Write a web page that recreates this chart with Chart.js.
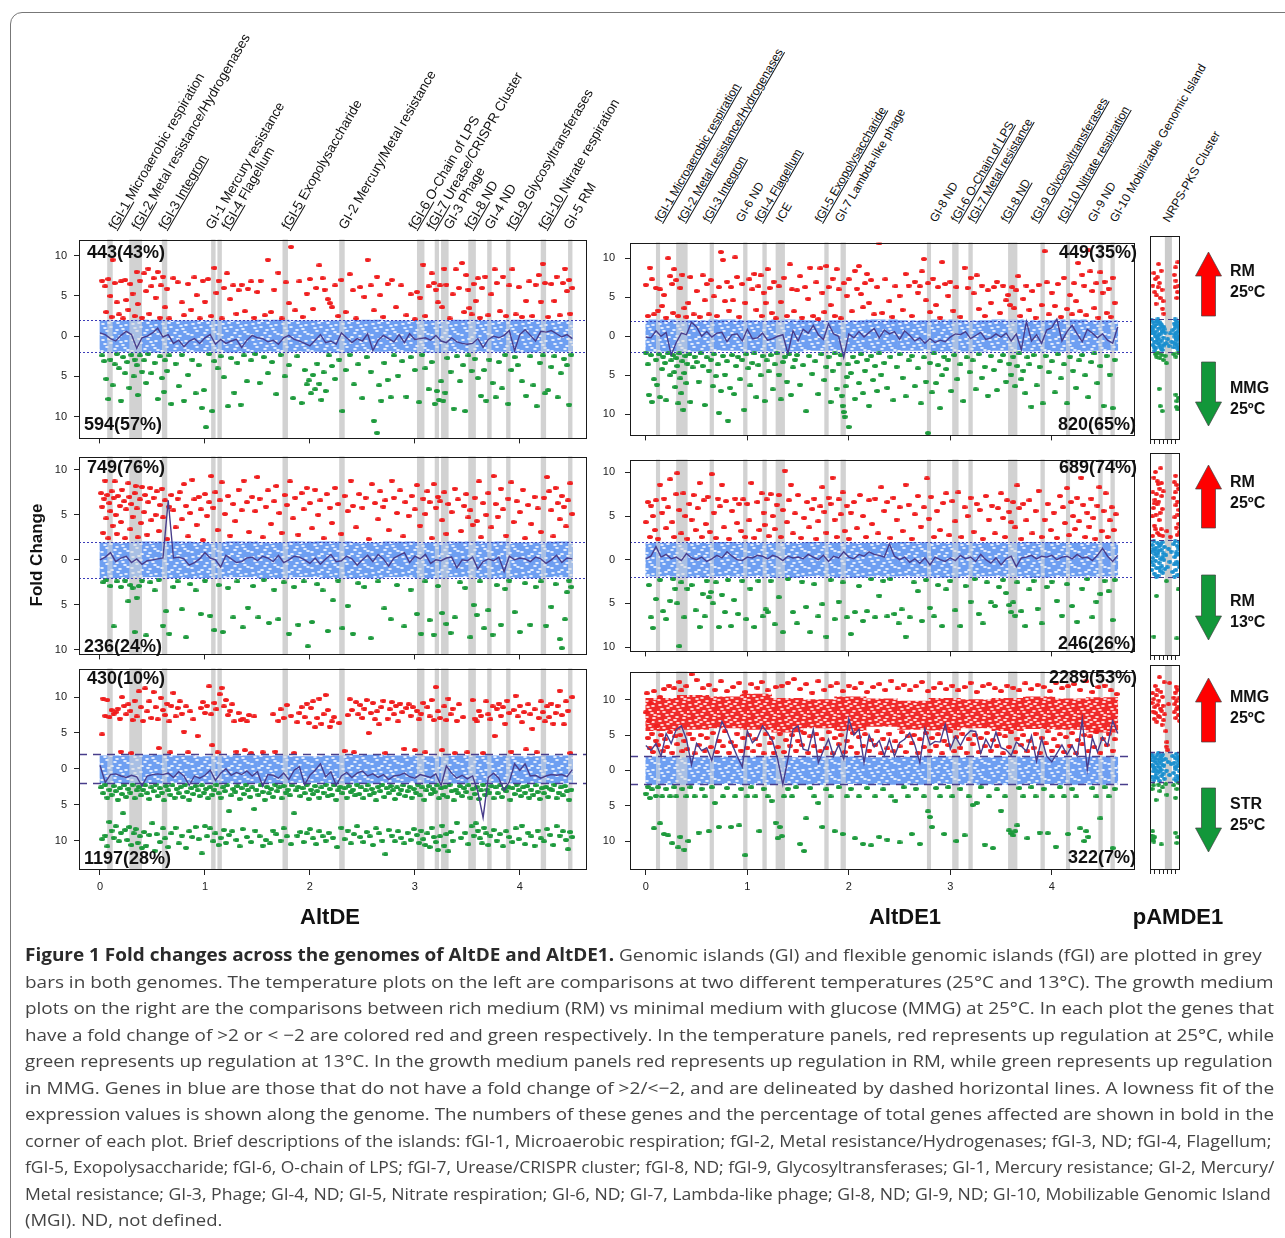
<!DOCTYPE html>
<html>
<head>
<meta charset="utf-8">
<script src="https://cdn.jsdelivr.net/npm/chart.js@4.4.1/dist/chart.umd.min.js"></script>
<style>
  body { margin: 0; background: #fff; }
  #fig { position: relative; width: 1285px; height: 1238px; overflow: hidden; background: #fff; font-family: 'Liberation Sans', Arial, sans-serif; color: #111; }
  .box { position: absolute; left: 10px; top: 12px; width: 1300px; height: 1260px; border: 1px solid #777; border-radius: 12px; }
  .isl { position: absolute; white-space: nowrap; transform-origin: 0 100%; transform: rotate(-60deg); color: #111; }
  .isl u { text-decoration: underline; text-decoration-thickness: 1px; text-underline-offset: 1px; }
  .cnt { position: absolute; font-weight: bold; font-size: 18px; line-height: 18px; white-space: nowrap; color: #111; }
  .arl { position: absolute; font-weight: bold; font-size: 16px; line-height: 21px; color: #111; }
  .gen { position: absolute; font-weight: bold; font-size: 22px; line-height: 24px; transform: translateX(-50%); }
  .cap { position: absolute; left: 25px; white-space: nowrap; font-family: 'Open Sans', sans-serif; font-size: 17px; line-height: 26px; color: #444; transform-origin: 0 0; }
  .cap b { color: #2a2a2a; }
</style>
</head>
<body>
<div id="fig"><div class="box"></div></div>
<script>
// ---- genome positions (Mb) of the grey island bars ----
const islandsA = [[0.07,0.12],[0.28,0.40],[0.59,0.64],[1.06,1.10],[1.12,1.16],[1.74,1.79],[2.28,2.33],[3.02,3.09],[3.19,3.23],[3.25,3.32],[3.51,3.58],[3.69,3.73],[3.87,3.91],[4.20,4.25],[4.46,4.50]];
const islandsB = [[0.10,0.14],[0.30,0.41],[0.63,0.67],[0.96,1.00],[1.15,1.19],[1.28,1.37],[1.76,1.80],[1.92,1.97],[2.77,2.81],[3.02,3.08],[3.18,3.22],[3.57,3.66],[3.89,3.93],[4.14,4.18],[4.46,4.50],[4.58,4.62]];
const islandsC = [[54,81]]; // kb on the plasmid

// ---- island labels ----
const labUA = ['fGI-1 ','fGI-2 ','fGI-3 Integron','','fGI-4','fGI-5','','fGI-6 ','fGI-7','','fGI-8 ','','fGI-9 ','fGI-10 ',''];
const labTA = ['Microaerobic respiration','Metal resistance/Hydrogenases','','GI-1 Mercury resistance',' Flagellum',' Exopolysaccharide','GI-2 Mercury/Metal resistance','O-Chain of LPS',' Urease/CRISPR Cluster','GI-3 Phage','ND','GI-4 ND','Glycosyltransferases','Nitrate respiration','GI-5 RM'];
const labUB = ['fGI-1 Microaerobic respiration','fGI-2 Metal resistance/Hydrogenases','fGI-3 Integron','','fGI-4 Flagellum','','fGI-5 Exopolysaccharide','','','fGI-6 O-Chain of LPS','fGI-7 Metal resistance','fGI-8 ND','fGI-9 Glycosyltransferases','fGI-10 Nitrate respiration','',''];
const labTB = ['','','','GI-6 ND','','ICE','','GI-7 Lambda-like phage','GI-8 ND','','','','','','GI-9 ND','GI-10 Mobilizable Genomic Island'];
const labUC = [''];
const labTC = ['NRPS-PKS Cluster'];

// ---- counts in the plot corners ----
const countUpA = ['443(43%)','749(76%)','430(10%)'];
const countDownA = ['594(57%)','236(24%)','1197(28%)'];
const countUpB = ['449(35%)','689(74%)','2289(53%)'];
const countDownB = ['820(65%)','246(26%)','322(7%)'];

// ---- comparison names ----
const upNames = [['RM','25ºC'],['RM','25ºC'],['MMG','25ºC']];
const downNames = [['MMG','25ºC'],['RM','13ºC'],['STR','25ºC']];
const genomes = ['AltDE','AltDE1','pAMDE1'];
const yTicks = [-10,-5,0,5,10];
const xTicksAB = [0,1,2,3,4];
const xTicksC = [0,16,32,48,64,80,96];
const cutoffs = [-2,2];

// ---- lowess grid ----
const lowXA = [0,0.05,0.1,0.15,0.2,0.25,0.3,0.35,0.4,0.45,0.5,0.55,0.6,0.65,0.7,0.75,0.8,0.85,0.9,0.95,1,1.05,1.1,1.15,1.2,1.25,1.3,1.35,1.4,1.45,1.5,1.55,1.6,1.65,1.7,1.75,1.8,1.85,1.9,1.95,2,2.05,2.1,2.15,2.2,2.25,2.3,2.35,2.4,2.45,2.5,2.55,2.6,2.65,2.7,2.75,2.8,2.85,2.9,2.95,3,3.05,3.1,3.15,3.2,3.25,3.3,3.35,3.4,3.45,3.5,3.55,3.6,3.65,3.7,3.75,3.8,3.85,3.9,3.95,4,4.05,4.1,4.15,4.2,4.25,4.3,4.35,4.4,4.45,4.5];
const lowXB = [0,0.05,0.1,0.15,0.2,0.25,0.3,0.35,0.4,0.45,0.5,0.55,0.6,0.65,0.7,0.75,0.8,0.85,0.9,0.95,1,1.05,1.1,1.15,1.2,1.25,1.3,1.35,1.4,1.45,1.5,1.55,1.6,1.65,1.7,1.75,1.8,1.85,1.9,1.95,2,2.05,2.1,2.15,2.2,2.25,2.3,2.35,2.4,2.45,2.5,2.55,2.6,2.65,2.7,2.75,2.8,2.85,2.9,2.95,3,3.05,3.1,3.15,3.2,3.25,3.3,3.35,3.4,3.45,3.5,3.55,3.6,3.65,3.7,3.75,3.8,3.85,3.9,3.95,4,4.05,4.1,4.15,4.2,4.25,4.3,4.35,4.4,4.45,4.5,4.55,4.6,4.65];

const lowA1 = [0.4,0.2,-0.3,-0.6,0.1,0.6,0.2,-1.5,-0.2,0.0, 0.4,1.0,-0.1,0.2,-0.9,-0.5,-1.3,-0.6,-0.3,-0.9, -0.2,0.2,-1.0,-0.4,-0.9,-0.6,-0.4,-1.4,-0.5,0.1, -0.2,-0.3,-0.7,-0.5,-1.0,-0.2,0.1,-0.4,-0.6,-0.9, -1.2,-0.5,0.2,-0.8,-0.6,-1.0,0.4,-0.2,-0.8,-0.3, -0.6,0.3,-1.8,-0.5,0.1,-0.3,-0.7,0.2,-0.8,0.3, -0.4,-0.3,-0.2,-0.5,0.1,-0.6,-0.8,-0.2,-0.7,-0.9, -1.0,-0.9,-0.3,-1.4,-0.4,0.0,-0.2,0.1,0.7,-1.8, 0.2,0.8,0.1,-0.6,0.6,0.5,0.7,0.3,-0.1,0.2, -0.3];
const lowA2 = [0.0,0.3,0.8,-0.2,0.2,0.4,-0.3,0.1,-0.5,-0.1, 0.0,0.1,0.2,6.6,0.2,0.3,0.1,-0.6,-0.3,0.1, 0.8,0.2,0.0,-0.8,0.5,0.1,-0.3,-0.2,0.2,0.3, -0.1,0.4,0.2,-0.2,0.5,-0.3,0.0,0.4,0.3,0.0, -0.4,0.2,-0.5,0.1,0.6,-0.2,-0.1,0.4,0.1,-0.6, 0.0,0.5,-0.2,0.6,0.1,-0.7,0.2,0.5,0.8,-0.3, 0.4,0.1,0.6,-0.4,0.0,-0.1,0.2,0.3,-0.9,0.0, -0.1,0.3,-1.0,-0.2,0.1,-0.1,0.3,-1.3,0.4,0.0, 0.2,0.1,-0.2,0.3,0.1,-0.4,0.0,0.5,-0.3,0.2, 0.1];
const lowA3 = [0.5,-1.9,-0.8,-0.7,-1.0,-1.2,-0.9,-1.1,-2.4,-1.0, -0.8,-0.7,-0.8,-0.6,-1.2,-0.4,-1.0,-2.3,-1.0,-1.3, -0.9,-0.2,-1.6,-0.6,0.0,-0.9,-0.5,-0.8,-0.3,-1.0, -0.4,-2.4,-0.8,-0.9,-1.3,-0.6,-1.5,-0.2,0.3,-2.2, -0.9,-0.2,0.7,-1.1,-0.4,-2.3,-1.0,-0.5,-1.2,-0.6, -0.3,-1.0,-0.7,-1.2,-0.8,-1.5,-1.0,-0.9,-0.6,-1.1, -1.3,-0.8,-1.0,-1.2,-0.7,-2.3,0.4,-0.6,-1.3,-0.9, -1.4,-1.0,-3.2,-6.8,-1.2,-0.6,-1.3,-3.0,-1.8,0.7, -0.2,0.7,-1.0,-0.9,-1.3,-1.0,-0.8,-0.9,-0.8,-1.1, -0.1];
const lowB1 = [-0.1,-0.2,0.7,0.0,0.5,-2.4,-0.8,0.4,0.2,1.8, 1.2,0.0,0.6,-0.1,0.4,0.5,-0.7,0.2,0.3,-0.6, 0.9,-0.3,-0.2,0.4,-0.5,-0.3,0.0,0.2,-2.2,0.7, -0.6,0.9,0.4,1.4,0.2,-0.4,1.6,0.3,0.0,-2.7, 0.3,-0.2,0.6,-0.1,0.5,1.0,-0.2,0.8,0.3,0.6, -0.4,0.7,0.1,-0.6,-0.2,-0.9,-0.3,-0.8,-0.5,-0.7, -0.1,0.3,0.2,0.6,-0.3,0.1,0.5,-0.4,-0.2,0.3, -0.1,0.4,-0.6,0.3,-1.7,1.9,-0.6,0.2,-0.9,0.8, 1.1,2.2,-0.6,0.6,1.4,0.3,-0.7,0.9,0.4,-0.2, 0.3,-0.5,-0.9,1.2];
const lowB2 = [0.1,0.4,1.5,0.3,0.6,0.1,0.3,-0.1,0.7,0.2, 0.0,0.3,-0.2,0.1,0.5,0.2,0.9,0.4,0.0,-0.1, 0.3,0.2,0.5,0.4,0.1,0.5,0.3,-0.1,0.4,0.2, 0.3,0.1,0.6,0.3,0.0,0.5,-0.2,0.4,0.2,0.9, 0.3,0.1,0.6,0.4,0.9,0.6,0.5,0.3,1.8,0.4, 0.0,0.3,-0.3,0.1,-0.4,0.2,-0.6,0.3,0.0,-0.2, 0.2,-0.1,0.5,0.1,0.3,-0.2,0.6,0.0,-0.4,0.2, -0.6,0.1,0.4,-0.8,0.2,0.3,0.5,0.1,0.4,0.3, 0.5,0.0,0.3,0.4,0.1,0.6,0.2,0.3,-0.1,0.5, 1.3,0.4,-0.2,0.5];
const lowB3 = [3.5,2.8,3.8,2.0,5.2,3.8,5.8,6.3,4.4,0.8, 3.8,2.8,3.2,1.4,4.3,6.9,5.5,3.7,2.0,0.5, 5.6,3.9,4.6,6.3,5.3,4.1,1.5,-2.0,1.6,5.8, 6.3,3.0,2.8,5.8,1.1,2.8,4.4,2.0,3.6,1.6, 7.3,5.0,5.8,1.1,5.0,3.3,4.2,2.1,4.4,2.0, 3.9,4.4,5.3,3.6,1.1,5.9,3.6,4.1,4.0,6.5, 3.0,4.8,3.5,4.9,5.6,5.5,2.4,4.4,3.1,5.4, 3.2,2.9,2.1,4.0,3.4,2.7,4.9,1.3,4.5,2.0, 1.2,2.4,3.6,2.2,3.5,2.0,7.2,0.1,4.6,2.6, 4.7,3.5,7.0,5.2];

// ---- blue (|fold change| < 2) band, per 0.3 Mb bin ----
const bandXA = [0.15,0.45,0.75,1.05,1.35,1.65,1.95,2.25,2.55,2.85,3.15,3.45,3.75,4.05,4.35];
const bandXB = [0.155,0.465,0.775,1.085,1.395,1.705,2.015,2.325,2.635,2.945,3.255,3.565,3.875,4.185,4.495];
const bandLoA1 = [-1.9,-2.0,-1.9,-1.9,-2.0,-1.9,-1.9,-2.0,-1.9,-1.9,-2.0,-1.9,-1.9,-2.0,-1.9];
const bandHiA1 = [1.9,2.0,1.9,1.9,1.9,2.0,1.9,1.9,2.0,1.9,1.9,2.0,1.9,2.0,1.9];
const bandLoA2 = [-2.0,-1.9,-2.0,-2.0,-1.9,-2.0,-1.9,-2.0,-2.0,-1.9,-2.0,-1.9,-2.0,-2.0,-1.9];
const bandHiA2 = [1.9,2.0,2.0,1.9,2.0,1.9,2.0,2.0,1.9,2.0,1.9,2.0,2.0,1.9,2.0];
const bandLoA3 = [-2.0,-2.0,-1.9,-2.0,-2.0,-2.0,-1.9,-2.0,-2.0,-1.9,-2.0,-2.0,-1.9,-2.0,-2.0];
const bandHiA3 = [1.8,1.9,1.8,1.7,1.8,1.8,1.7,1.8,1.9,1.8,1.7,1.8,1.8,1.7,1.8];
const bandLoB1 = [-1.9,-1.9,-1.8,-1.9,-1.9,-1.8,-1.9,-1.9,-1.8,-1.9,-1.9,-1.8,-1.9,-1.9,-1.8];
const bandHiB1 = [2.1,2.0,2.1,2.0,2.1,2.0,2.0,2.1,2.0,2.1,2.0,2.1,2.0,2.1,2.0];
const bandLoB2 = [-1.9,-2.0,-1.9,-1.9,-2.0,-1.9,-2.0,-1.9,-1.9,-2.0,-1.9,-1.9,-2.0,-1.9,-1.9];
const bandHiB2 = [1.9,1.9,2.0,1.9,1.9,2.0,1.9,1.9,2.0,1.9,1.9,1.9,2.0,1.9,1.9];
const bandLoB3 = [-2.0,-2.0,-1.9,-2.0,-2.0,-2.0,-1.9,-2.0,-2.0,-1.9,-2.0,-2.0,-1.9,-2.0,-2.0];
const bandHiB3 = [1.9,1.8,1.9,1.9,1.8,1.9,1.9,1.8,1.9,1.9,1.8,1.9,1.9,1.8,1.9];
// dense red core of AltDE1 MMG vs STR
const coreLoB3 = [5.6,5.8,6.0,5.8,5.4,6.0,5.6,6.2,5.8,5.7,6.0,5.6,5.9,5.8,5.4];
const coreHiB3 = [10.2,10.6,10.4,10.8,10.2,10.0,10.4,10.1,9.8,10.2,10.0,10.2,10.4,10.1,10.3];

// ---- up (red) and down (green) regulated genes: x (Mb), fold change ----
const redA1 = [0.02,6.9,0.05,6.2,0.06,3.0,0.08,7.1,0.10,5.0,0.11,2.4,0.12,9.5,0.14,6.6,0.16,4.2,0.18,2.7,0.20,6.8,0.22,2.2,0.24,7.0,0.25,4.5,0.27,3.3,0.29,6.5,0.31,5.3,0.33,2.5,0.35,8.0,0.36,4.0,0.38,6.9,0.40,2.3,0.42,7.8,0.44,5.6,0.46,8.4,0.47,2.8,0.49,6.2,0.51,7.2,0.53,4.8,0.55,8.0,0.57,2.3,0.58,6.3,0.60,7.4,0.62,3.6,0.64,5.9,0.66,2.2,0.70,7.2,0.74,6.7,0.78,4.2,0.80,2.6,0.84,6.5,0.87,3.3,0.90,7.3,0.92,5.1,0.95,2.2,0.98,6.9,1.00,4.3,1.03,7.1,1.06,2.5,1.09,8.5,1.11,5.4,1.13,6.9,1.16,2.2,1.18,6.0,1.21,7.8,1.24,4.6,1.27,6.3,1.30,2.8,1.32,5.7,1.35,6.4,1.38,3.1,1.41,5.9,1.44,6.8,1.47,2.3,1.50,5.5,1.53,6.9,1.57,2.6,1.60,9.5,1.63,3.0,1.66,5.8,1.70,7.9,1.73,2.2,1.77,6.7,1.80,4.1,1.82,11.1,1.86,3.2,1.90,6.8,1.93,2.4,1.97,5.3,2.00,7.1,2.03,3.4,2.06,6.0,2.09,8.8,2.12,7.2,2.14,5.8,2.17,4.6,2.19,4.1,2.21,3.6,2.24,6.3,2.27,2.5,2.30,7.0,2.34,3.0,2.38,7.7,2.41,5.7,2.44,2.2,2.48,6.1,2.52,4.9,2.55,9.5,2.58,6.3,2.61,3.2,2.64,7.4,2.67,5.1,2.70,2.4,2.74,6.5,2.78,7.0,2.82,3.6,2.87,6.3,2.92,2.6,2.96,5.2,3.00,2.1,3.02,5.5,3.05,4.8,3.08,8.9,3.10,2.5,3.13,6.2,3.16,7.8,3.18,6.6,3.20,5.8,3.22,4.2,3.24,6.3,3.26,3.6,3.28,8.4,3.30,6.4,3.33,2.2,3.36,5.2,3.39,8.3,3.42,6.0,3.45,9.1,3.47,3.0,3.49,7.6,3.51,5.8,3.52,3.5,3.54,2.7,3.56,6.5,3.58,4.4,3.60,7.2,3.62,2.3,3.64,6.0,3.67,7.4,3.70,2.6,3.73,5.2,3.76,8.3,3.78,6.6,3.81,3.1,3.84,7.4,3.87,2.5,3.90,6.3,3.93,8.3,3.96,2.7,3.99,6.1,4.02,2.4,4.06,4.4,4.09,6.8,4.12,2.5,4.15,6.4,4.18,7.6,4.20,4.3,4.22,9.0,4.24,6.6,4.27,2.4,4.30,6.5,4.33,4.4,4.35,7.4,4.38,2.6,4.41,6.6,4.43,8.4,4.45,5.6,4.47,7.0,4.48,2.8,4.50,6.0];
const greenA1 = [0.02,-2.4,0.04,-3.1,0.06,-5.3,0.08,-7.8,0.10,-2.9,0.12,-6.1,0.14,-3.5,0.16,-2.2,0.18,-4.0,0.20,-8.0,0.22,-2.6,0.24,-4.6,0.26,-3.2,0.28,-6.4,0.30,-2.3,0.32,-5.0,0.33,-2.9,0.35,-3.6,0.36,-7.3,0.38,-2.4,0.40,-4.4,0.42,-3.0,0.44,-5.8,0.46,-2.2,0.49,-4.6,0.52,-3.3,0.55,-7.8,0.57,-2.5,0.59,-5.2,0.61,-6.9,0.62,-3.0,0.64,-4.3,0.66,-2.4,0.68,-8.4,0.72,-3.4,0.75,-6.2,0.78,-2.3,0.80,-8.0,0.84,-4.8,0.88,-2.9,0.91,-7.1,0.94,-3.6,0.97,-8.9,0.99,-6.7,1.01,-11.3,1.04,-2.2,1.07,-9.3,1.09,-3.1,1.12,-4.0,1.15,-2.5,1.18,-5.1,1.22,-8.7,1.25,-2.7,1.28,-7.0,1.31,-3.3,1.34,-8.5,1.37,-2.4,1.40,-5.6,1.44,-3.0,1.48,-2.2,1.52,-5.8,1.56,-2.6,1.60,-4.6,1.64,-3.2,1.68,-7.2,1.72,-2.3,1.76,-5.0,1.80,-3.6,1.84,-7.7,1.88,-2.5,1.92,-8.3,1.95,-4.2,1.97,-6.0,1.99,-5.5,2.01,-7.1,2.03,-4.8,2.05,-6.6,2.07,-3.4,2.09,-5.9,2.11,-7.9,2.13,-4.5,2.15,-6.8,2.18,-2.4,2.21,-3.7,2.24,-5.3,2.28,-2.9,2.31,-9.3,2.34,-4.2,2.38,-2.3,2.42,-6.0,2.46,-3.5,2.50,-7.7,2.54,-2.6,2.58,-4.4,2.61,-10.5,2.64,-12.0,2.66,-6.1,2.68,-8.0,2.71,-3.3,2.74,-5.4,2.77,-7.6,2.80,-2.4,2.84,-4.9,2.88,-3.1,2.92,-7.5,2.96,-2.6,3.00,-4.2,3.04,-8.2,3.07,-2.3,3.10,-4.0,3.13,-6.6,3.16,-3.2,3.19,-8.4,3.21,-6.8,3.23,-7.9,3.25,-5.6,3.27,-8.0,3.29,-7.0,3.31,-2.7,3.34,-4.4,3.37,-9.0,3.40,-2.5,3.43,-5.6,3.46,-3.6,3.48,-9.3,3.51,-2.4,3.54,-4.3,3.57,-2.8,3.60,-5.2,3.63,-7.4,3.66,-4.2,3.68,-8.0,3.71,-2.9,3.74,-5.8,3.77,-7.6,3.80,-3.2,3.83,-6.5,3.86,-2.3,3.89,-8.4,3.92,-4.2,3.95,-2.6,3.98,-3.6,4.02,-5.6,4.06,-7.4,4.10,-2.5,4.13,-6.1,4.16,-8.7,4.19,-3.3,4.22,-2.4,4.24,-7.1,4.27,-6.7,4.30,-3.8,4.33,-2.5,4.36,-7.6,4.39,-4.6,4.42,-2.8,4.45,-3.6,4.47,-8.5,4.49,-2.3];

const redA2 = [0.01,7.4,0.02,5.9,0.03,3.0,0.04,6.8,0.05,8.8,0.06,4.6,0.07,7.2,0.08,2.4,0.09,6.3,0.10,5.4,0.11,7.6,0.12,3.8,0.13,6.9,0.14,8.7,0.15,5.0,0.16,2.9,0.17,7.1,0.19,6.0,0.20,4.2,0.21,7.8,0.23,6.5,0.24,2.4,0.25,5.6,0.27,8.5,0.28,7.0,0.29,3.4,0.30,6.2,0.31,4.8,0.33,7.4,0.34,8.2,0.35,5.7,0.36,2.5,0.38,6.7,0.39,4.1,0.40,8.1,0.42,5.3,0.43,7.2,0.45,2.8,0.46,6.4,0.48,8.0,0.49,4.4,0.51,6.9,0.53,5.0,0.54,7.6,0.56,3.2,0.57,6.1,0.59,7.9,0.60,4.7,0.62,6.6,0.64,2.3,0.66,5.9,0.68,7.2,0.70,5.5,0.72,3.6,0.74,6.8,0.76,7.5,0.78,4.5,0.80,8.4,0.82,6.0,0.84,2.6,0.86,5.2,0.88,8.9,0.90,6.7,0.92,3.9,0.94,7.0,0.96,5.6,0.98,2.2,1.00,7.3,1.02,4.9,1.04,6.4,1.06,9.3,1.08,5.8,1.10,7.5,1.12,3.3,1.14,6.6,1.16,8.6,1.19,5.1,1.22,7.1,1.24,2.7,1.27,6.2,1.29,4.3,1.32,7.8,1.35,5.5,1.37,8.8,1.40,6.4,1.42,3.1,1.45,7.0,1.48,5.4,1.50,9.2,1.52,6.8,1.55,2.5,1.58,5.9,1.60,7.7,1.63,4.0,1.66,6.5,1.68,8.2,1.71,5.2,1.73,3.0,1.76,7.2,1.78,6.1,1.81,8.7,1.84,4.6,1.86,6.9,1.89,2.8,1.92,7.4,1.94,5.6,1.97,8.0,2.00,6.3,2.02,3.5,2.05,7.8,2.08,5.0,2.10,6.6,2.13,2.4,2.16,7.3,2.19,5.8,2.21,4.1,2.24,8.0,2.27,6.2,2.30,2.9,2.33,7.1,2.36,5.4,2.39,8.8,2.41,6.0,2.44,3.6,2.47,7.3,2.50,5.8,2.53,6.9,2.56,2.3,2.59,8.4,2.62,6.3,2.65,4.5,2.67,7.6,2.70,5.9,2.72,6.6,2.75,3.3,2.78,8.8,2.80,6.9,2.83,5.2,2.86,7.7,2.89,2.6,2.91,6.4,2.94,4.9,2.97,7.1,3.00,5.6,3.02,8.3,3.05,3.8,3.08,6.8,3.10,5.1,3.12,7.6,3.14,6.4,3.16,2.4,3.18,8.4,3.20,5.8,3.22,7.0,3.24,6.5,3.26,4.4,3.28,7.5,3.30,2.9,3.32,6.2,3.35,5.3,3.38,7.9,3.41,6.7,3.44,3.2,3.47,6.0,3.49,7.3,3.51,4.7,3.53,5.5,3.55,3.9,3.57,6.9,3.59,4.3,3.61,8.7,3.63,2.5,3.65,6.3,3.68,5.0,3.70,7.4,3.73,3.6,3.75,9.3,3.77,6.2,3.79,4.8,3.82,7.9,3.84,5.6,3.87,2.7,3.89,6.8,3.92,8.6,3.94,4.2,3.97,6.5,4.00,5.3,4.03,7.8,4.05,2.4,4.08,6.1,4.11,4.0,4.14,7.0,4.17,5.7,4.20,3.1,4.23,6.9,4.26,9.2,4.28,7.6,4.30,5.5,4.32,2.6,4.34,8.0,4.36,6.3,4.38,4.5,4.40,7.1,4.42,5.9,4.44,3.7,4.46,6.6,4.48,8.5,4.50,5.1];
const greenA2 = [0.03,-2.5,0.06,-2.2,0.10,-2.9,0.13,-7.4,0.16,-2.4,0.20,-3.0,0.24,-2.3,0.27,-4.6,0.29,-2.8,0.31,-3.1,0.33,-8.0,0.35,-4.2,0.37,-2.9,0.40,-2.3,0.44,-8.4,0.48,-2.5,0.52,-3.4,0.56,-2.2,0.60,-7.3,0.63,-5.7,0.66,-8.2,0.70,-3.0,0.74,-2.4,0.78,-5.5,0.82,-8.6,0.86,-2.7,0.91,-3.4,0.96,-6.0,1.00,-2.3,1.05,-6.2,1.09,-7.8,1.13,-2.8,1.17,-8.0,1.22,-3.1,1.27,-6.4,1.31,-2.4,1.36,-7.5,1.41,-5.3,1.46,-2.9,1.51,-6.4,1.56,-2.2,1.61,-7.0,1.66,-3.3,1.70,-6.6,1.75,-2.5,1.80,-8.2,1.85,-3.0,1.89,-7.2,1.94,-2.4,1.98,-9.6,2.02,-6.9,2.07,-2.7,2.12,-3.4,2.17,-7.9,2.22,-4.5,2.27,-2.3,2.31,-7.6,2.36,-5.1,2.41,-8.2,2.46,-2.6,2.52,-3.0,2.58,-8.7,2.65,-2.4,2.71,-5.4,2.77,-6.6,2.83,-2.8,2.90,-7.4,2.96,-3.3,3.02,-6.0,3.06,-8.2,3.10,-2.4,3.14,-6.7,3.18,-8.3,3.22,-2.9,3.26,-5.9,3.30,-7.1,3.34,-8.1,3.38,-6.4,3.43,-2.5,3.48,-3.1,3.53,-8.6,3.56,-5.0,3.59,-6.1,3.62,-2.4,3.66,-7.6,3.70,-5.6,3.74,-8.3,3.78,-2.8,3.82,-7.2,3.86,-3.2,3.90,-2.3,3.95,-5.8,4.00,-8.0,4.05,-2.6,4.10,-7.2,4.15,-3.0,4.20,-2.4,4.25,-7.3,4.30,-5.2,4.34,-2.7,4.38,-8.8,4.40,-9.8,4.43,-6.6,4.45,-3.6,4.47,-2.3,4.49,-3.0];

const redA3 = [0.02,4.8,0.03,9.8,0.05,7.4,0.07,9.6,0.09,7.2,0.11,8.2,0.13,7.7,0.15,7.9,0.17,8.4,0.19,7.0,0.20,2.4,0.21,10.0,0.23,8.8,0.25,7.6,0.27,9.0,0.29,8.1,0.30,2.2,0.31,6.8,0.33,9.5,0.35,7.3,0.37,10.8,0.39,8.6,0.41,6.7,0.43,11.2,0.45,8.0,0.47,9.4,0.49,7.1,0.51,10.7,0.53,8.6,0.55,6.9,0.56,2.9,0.58,9.9,0.60,8.2,0.62,7.5,0.64,9.1,0.66,6.6,0.67,2.3,0.68,8.8,0.70,10.6,0.72,7.3,0.74,8.5,0.76,9.4,0.78,7.7,0.80,5.2,0.82,8.7,0.84,2.3,0.86,8.0,0.89,6.9,0.93,4.6,0.96,8.5,0.98,9.3,1.00,7.8,1.02,8.8,1.04,11.5,1.06,7.6,1.07,3.3,1.09,9.2,1.11,8.3,1.12,2.3,1.14,10.4,1.16,11.3,1.18,8.7,1.20,9.6,1.22,7.5,1.24,8.1,1.26,9.0,1.28,6.6,1.30,2.4,1.32,7.8,1.34,6.8,1.36,7.0,1.38,2.6,1.40,6.6,1.42,7.5,1.44,2.2,1.47,7.3,1.55,2.3,1.65,7.6,1.67,2.4,1.70,6.7,1.72,8.3,1.75,7.1,1.78,8.9,1.82,7.4,1.85,2.2,1.88,6.5,1.90,7.8,1.92,8.6,1.95,7.2,1.97,9.1,1.99,6.4,2.01,8.5,2.03,9.4,2.05,5.8,2.07,7.1,2.09,9.8,2.11,6.3,2.13,7.6,2.15,10.3,2.17,8.2,2.19,5.9,2.21,6.6,2.23,7.2,2.28,6.4,2.33,2.5,2.36,7.5,2.38,9.7,2.40,8.2,2.42,2.3,2.44,9.3,2.46,7.6,2.48,8.9,2.50,7.1,2.52,8.4,2.54,9.6,2.56,5.0,2.58,7.8,2.60,9.2,2.62,6.9,2.64,8.0,2.66,6.2,2.68,8.6,2.70,9.5,2.72,2.2,2.74,7.0,2.76,8.3,2.78,9.3,2.80,7.6,2.82,8.8,2.84,6.6,2.86,9.1,2.88,7.9,2.90,2.8,2.92,8.5,2.94,9.0,2.96,7.4,2.98,8.6,3.00,2.6,3.02,8.1,3.04,6.9,3.06,7.7,3.08,9.2,3.10,2.3,3.12,8.6,3.14,7.3,3.16,9.6,3.18,6.8,3.20,11.4,3.22,8.0,3.24,7.1,3.26,2.6,3.28,8.7,3.30,6.8,3.32,9.8,3.34,7.6,3.36,8.4,3.38,2.2,3.40,6.7,3.42,9.0,3.46,7.2,3.50,2.3,3.55,9.6,3.57,7.0,3.59,6.6,3.61,8.1,3.63,7.4,3.65,2.2,3.68,9.4,3.70,7.6,3.72,6.9,3.74,8.7,3.76,4.6,3.78,8.4,3.80,9.1,3.82,7.4,3.84,8.6,3.86,6.3,3.88,9.5,3.90,7.8,3.92,2.4,3.94,8.2,3.96,10.2,3.98,7.3,4.00,8.8,4.02,6.5,4.04,7.9,4.06,2.7,4.08,9.0,4.10,7.6,4.12,5.6,4.14,8.3,4.16,2.3,4.18,7.1,4.20,9.4,4.22,7.9,4.24,6.6,4.26,8.7,4.28,7.2,4.30,9.1,4.32,6.3,4.34,7.8,4.36,8.8,4.38,10.9,4.40,7.5,4.42,6.2,4.44,9.4,4.46,8.1,4.48,2.2,4.50,10.0];
const greenA3 = [0.01,-2.6,0.03,-3.4,0.05,-2.2,0.07,-4.0,0.09,-2.9,0.11,-3.6,0.13,-2.4,0.15,-3.1,0.17,-4.3,0.19,-2.7,0.21,-3.5,0.23,-2.3,0.25,-3.9,0.27,-2.8,0.29,-3.3,0.31,-2.2,0.33,-4.1,0.35,-3.0,0.37,-2.5,0.39,-3.7,0.41,-2.9,0.43,-2.3,0.45,-3.4,0.47,-4.2,0.49,-2.6,0.51,-3.1,0.53,-2.2,0.55,-3.8,0.57,-2.7,0.59,-3.3,0.61,-4.4,0.63,-2.4,0.65,-3.0,0.67,-3.6,0.69,-2.3,0.71,-4.0,0.73,-2.8,0.75,-3.4,0.77,-2.5,0.79,-3.9,0.81,-2.2,0.83,-3.2,0.85,-4.3,0.87,-2.7,0.89,-3.5,0.91,-2.4,0.93,-3.0,0.95,-3.8,0.97,-2.3,0.99,-3.3,1.01,-2.8,1.03,-4.1,1.05,-2.5,1.07,-3.6,1.09,-2.9,1.11,-2.2,1.13,-3.4,1.15,-4.0,1.17,-2.6,1.19,-3.1,1.21,-2.3,1.23,-5.9,1.25,-3.7,1.27,-2.8,1.29,-3.2,1.31,-2.4,1.33,-4.2,1.35,-2.7,1.37,-3.5,1.39,-2.2,1.41,-3.0,1.43,-3.9,1.45,-2.6,1.47,-5.6,1.49,-2.9,1.51,-3.6,1.53,-2.3,1.55,-3.2,1.57,-4.3,1.59,-2.5,1.61,-3.4,1.63,-2.8,1.65,-3.9,1.67,-2.2,1.69,-3.1,1.71,-2.6,1.73,-4.1,1.75,-2.4,1.77,-3.3,1.79,-2.9,1.81,-3.7,1.83,-2.3,1.85,-6.2,1.87,-3.0,1.89,-2.5,1.91,-3.8,1.93,-2.7,1.95,-3.4,1.97,-2.2,1.99,-4.2,2.01,-2.9,2.03,-3.5,2.05,-2.4,2.07,-3.1,2.09,-4.0,2.11,-2.6,2.13,-3.3,2.15,-2.2,2.17,-3.8,2.19,-2.8,2.21,-3.6,2.23,-2.3,2.25,-4.3,2.27,-3.0,2.29,-2.5,2.31,-3.4,2.33,-2.7,2.35,-4.0,2.37,-2.4,2.39,-3.2,2.41,-2.9,2.43,-3.7,2.45,-2.2,2.47,-3.5,2.49,-2.6,2.51,-4.1,2.53,-3.0,2.55,-2.3,2.57,-3.6,2.59,-2.8,2.61,-3.3,2.63,-4.4,2.65,-2.5,2.67,-3.1,2.69,-2.2,2.71,-3.9,2.73,-2.7,2.75,-3.4,2.77,-2.4,2.79,-3.0,2.81,-4.2,2.83,-2.6,2.85,-3.5,2.87,-2.9,2.89,-2.3,2.91,-3.8,2.93,-3.1,2.95,-2.5,2.97,-4.0,2.99,-2.8,3.01,-3.3,3.03,-2.2,3.05,-3.7,3.07,-2.6,3.09,-4.3,3.11,-3.0,3.13,-2.4,3.15,-3.5,3.17,-2.8,3.19,-3.2,3.21,-2.3,3.23,-4.1,3.25,-2.7,3.27,-3.6,3.29,-2.5,3.31,-3.9,3.33,-2.2,3.35,-3.1,3.37,-4.4,3.39,-2.9,3.41,-3.4,3.43,-2.4,3.45,-3.8,3.47,-2.7,3.49,-3.2,3.51,-2.3,3.53,-4.0,3.55,-2.8,3.57,-3.5,3.59,-2.5,3.61,-4.2,3.63,-3.0,3.65,-2.2,3.67,-3.6,3.69,-2.9,3.71,-3.3,3.73,-2.4,3.75,-4.1,3.77,-2.6,3.79,-3.4,3.81,-2.3,3.83,-3.9,3.85,-2.8,3.87,-3.1,3.89,-2.5,3.91,-4.3,3.93,-2.7,3.95,-3.5,3.97,-2.2,3.99,-3.0,4.01,-3.8,4.03,-2.6,4.05,-3.3,4.07,-2.4,4.09,-4.0,4.11,-2.9,4.13,-3.6,4.15,-2.3,4.17,-3.2,4.19,-4.2,4.21,-2.7,4.23,-3.4,4.25,-2.5,4.27,-3.9,4.29,-2.8,4.31,-3.0,4.33,-2.2,4.35,-4.1,4.37,-3.3,4.39,-2.6,4.41,-3.7,4.43,-2.4,4.45,-3.1,4.47,-4.3,4.49,-2.9,
  0.02,-9.8,0.05,-9.3,0.07,-10.8,0.09,-7.4,0.11,-8.6,0.13,-9.6,0.15,-8.0,0.18,-10.1,0.20,-8.9,0.22,-6.2,0.24,-8.5,0.26,-9.9,0.28,-8.1,0.30,-10.6,0.32,-9.0,0.34,-8.4,0.36,-10.3,0.38,-9.4,0.40,-11.0,0.42,-8.8,0.44,-10.7,0.47,-9.2,0.50,-7.6,0.52,-11.4,0.54,-9.1,0.57,-10.2,0.60,-8.3,0.62,-9.7,0.65,-10.9,0.68,-9.0,0.72,-8.2,0.75,-10.4,0.78,-9.3,0.82,-11.0,0.85,-8.7,0.88,-9.5,0.91,-8.1,0.94,-9.8,0.97,-11.8,1.00,-8.0,1.02,-9.4,1.05,-8.3,1.08,-10.1,1.10,-9.0,1.13,-10.6,1.15,-9.6,1.18,-8.5,1.20,-10.3,1.23,-9.2,1.26,-8.7,1.30,-9.9,1.33,-10.8,1.36,-8.4,1.40,-9.5,1.44,-10.2,1.48,-8.6,1.52,-9.4,1.55,-10.7,1.58,-9.9,1.62,-10.4,1.65,-8.6,1.68,-9.1,1.72,-10.0,1.75,-8.3,1.78,-9.4,1.82,-10.5,1.88,-9.3,1.91,-8.8,1.94,-10.2,1.97,-9.0,2.00,-8.4,2.03,-9.7,2.06,-10.5,2.09,-8.7,2.12,-9.4,2.15,-10.0,2.18,-8.9,2.22,-9.6,2.26,-10.9,2.30,-8.2,2.33,-9.8,2.36,-8.6,2.39,-10.4,2.42,-9.1,2.45,-8.0,2.48,-9.5,2.51,-10.2,2.54,-8.8,2.57,-9.4,2.60,-10.6,2.63,-8.3,2.66,-9.0,2.69,-10.0,2.72,-11.9,2.75,-8.5,2.78,-9.3,2.81,-10.1,2.84,-8.7,2.87,-9.6,2.90,-10.4,2.93,-8.9,2.96,-9.9,2.99,-8.4,3.02,-9.2,3.04,-10.3,3.06,-8.6,3.08,-9.8,3.10,-10.6,3.12,-9.0,3.14,-10.9,3.16,-8.2,3.18,-9.5,3.20,-10.2,3.22,-11.3,3.24,-9.4,3.26,-7.9,3.28,-10.7,3.30,-9.1,3.32,-11.5,3.34,-8.8,3.36,-10.0,3.40,-7.5,3.44,-9.6,3.48,-8.9,3.51,-10.5,3.54,-8.0,3.56,-9.3,3.58,-7.6,3.60,-8.6,3.62,-9.7,3.64,-10.4,3.66,-8.2,3.68,-9.0,3.70,-10.6,3.72,-9.3,3.75,-8.5,3.78,-10.0,3.81,-9.1,3.84,-10.8,3.87,-8.7,3.90,-9.5,3.93,-10.2,3.96,-8.3,3.99,-9.8,4.02,-7.9,4.05,-10.5,4.08,-8.9,4.11,-9.4,4.14,-10.7,4.17,-8.6,4.20,-9.7,4.23,-10.1,4.26,-8.4,4.29,-9.2,4.32,-10.6,4.35,-8.0,4.38,-9.3,4.41,-8.7,4.44,-9.9,4.46,-11.2,4.48,-8.8,4.50,-9.5];

const redB1 = [0.00,6.6,0.02,2.6,0.04,8.8,0.06,7.3,0.08,2.8,0.10,6.2,0.12,3.3,0.14,6.0,0.16,3.9,0.18,5.3,0.20,2.4,0.22,10.0,0.24,7.7,0.26,6.7,0.27,3.0,0.28,8.6,0.30,7.2,0.32,2.6,0.34,6.2,0.36,7.9,0.38,3.6,0.40,2.5,0.42,4.3,0.44,7.6,0.47,2.8,0.50,5.8,0.53,2.5,0.56,7.8,0.58,4.6,0.60,6.7,0.62,2.8,0.64,7.2,0.67,5.1,0.70,2.6,0.72,6.3,0.74,10.8,0.76,9.8,0.78,4.5,0.80,7.0,0.82,3.3,0.84,6.3,0.86,4.6,0.88,10.1,0.90,7.6,0.92,2.5,0.95,6.7,0.98,4.3,1.02,7.3,1.05,6.0,1.07,8.0,1.09,3.4,1.11,6.4,1.13,7.8,1.14,2.6,1.16,5.6,1.18,4.3,1.20,8.6,1.22,6.2,1.24,3.0,1.26,7.0,1.28,2.3,1.31,6.4,1.33,4.4,1.36,7.5,1.39,2.6,1.42,9.2,1.44,6.0,1.46,3.2,1.49,5.9,1.52,7.7,1.54,2.4,1.57,6.3,1.60,4.8,1.62,8.8,1.65,2.6,1.68,6.9,1.70,2.2,1.72,8.7,1.74,5.6,1.76,3.1,1.78,9.0,1.80,6.3,1.82,4.0,1.84,7.4,1.86,2.6,1.88,8.6,1.90,6.0,1.92,2.3,1.95,6.8,1.98,5.2,2.00,7.3,2.03,3.2,2.06,8.4,2.08,6.1,2.10,9.0,2.12,5.4,2.14,3.7,2.16,6.8,2.18,8.0,2.20,4.3,2.22,7.2,2.25,2.8,2.28,6.3,2.30,11.9,2.33,3.0,2.36,7.3,2.40,4.5,2.43,2.5,2.46,6.4,2.50,5.2,2.53,3.4,2.56,8.0,2.59,6.5,2.62,2.6,2.65,7.0,2.68,5.6,2.70,6.4,2.72,8.3,2.74,9.9,2.76,4.6,2.78,6.8,2.80,3.1,2.83,7.4,2.86,4.0,2.88,6.3,2.90,2.4,2.92,9.5,2.95,6.7,2.98,5.2,3.00,7.0,3.03,3.3,3.06,6.3,3.10,2.5,3.14,8.8,3.17,6.2,3.20,7.5,3.23,5.5,3.26,7.8,3.28,3.5,3.31,6.5,3.34,2.6,3.37,5.9,3.40,4.3,3.43,6.3,3.46,7.0,3.49,3.0,3.52,6.5,3.55,4.6,3.57,5.3,3.59,4.0,3.61,6.3,3.63,3.6,3.65,5.9,3.67,7.7,3.69,2.6,3.72,4.8,3.75,6.5,3.78,3.4,3.81,5.8,3.84,2.4,3.87,6.6,3.90,4.0,3.93,10.9,3.95,6.9,3.97,2.8,4.00,5.6,4.03,3.9,4.06,6.7,4.09,2.5,4.12,7.5,4.15,3.5,4.18,5.3,4.20,2.8,4.22,6.8,4.24,4.5,4.26,9.4,4.28,3.2,4.30,7.9,4.32,6.5,4.34,2.7,4.36,11.0,4.38,8.3,4.40,5.8,4.42,3.6,4.44,6.8,4.46,2.4,4.48,8.2,4.50,5.6,4.52,7.0,4.54,3.0,4.56,6.1,4.58,2.5,4.60,7.5,4.62,4.3];
const greenB1 = [0.00,-2.1,0.02,-3.6,0.03,-7.5,0.05,-2.4,0.06,-8.4,0.08,-5.5,0.10,-3.0,0.11,-6.2,0.13,-2.3,0.14,-7.8,0.16,-4.2,0.17,-2.6,0.19,-3.4,0.20,-8.2,0.22,-2.2,0.24,-5.0,0.25,-3.1,0.27,-2.4,0.28,-4.6,0.29,-6.5,0.30,-2.8,0.31,-3.8,0.32,-8.6,0.33,-2.2,0.34,-5.4,0.35,-7.3,0.36,-3.2,0.37,-9.4,0.38,-4.7,0.39,-2.5,0.40,-6.0,0.41,-3.5,0.43,-2.3,0.44,-8.4,0.46,-4.0,0.48,-2.6,0.50,-3.3,0.52,-5.8,0.54,-2.2,0.56,-3.8,0.58,-8.8,0.60,-2.7,0.62,-4.4,0.64,-3.0,0.66,-6.4,0.67,-2.3,0.69,-5.1,0.71,-3.6,0.72,-9.8,0.74,-7.0,0.76,-2.5,0.78,-4.9,0.80,-3.2,0.81,-10.8,0.83,-6.6,0.85,-2.4,0.87,-7.4,0.89,-3.8,0.91,-2.6,0.93,-5.5,0.95,-3.0,0.97,-9.4,0.99,-2.3,1.01,-4.1,1.03,-6.3,1.05,-3.4,1.07,-2.2,1.09,-7.8,1.11,-3.7,1.13,-5.0,1.15,-2.5,1.17,-8.3,1.19,-3.1,1.21,-4.5,1.23,-2.4,1.25,-6.8,1.27,-3.6,1.29,-2.2,1.31,-4.9,1.33,-8.1,1.35,-3.3,1.37,-2.6,1.39,-5.8,1.41,-2.3,1.43,-7.5,1.45,-4.0,1.47,-3.0,1.49,-2.4,1.52,-6.2,1.55,-3.7,1.58,-9.6,1.61,-2.5,1.64,-4.8,1.67,-3.2,1.70,-7.4,1.73,-2.3,1.76,-5.6,1.78,-3.9,1.80,-2.6,1.82,-8.4,1.84,-4.4,1.86,-2.2,1.88,-6.7,1.90,-3.5,1.92,-2.4,1.93,-7.6,1.94,-8.9,1.95,-9.7,1.96,-10.3,1.97,-6.4,1.98,-5.2,1.99,-3.6,2.00,-11.6,2.02,-4.7,2.04,-2.6,2.06,-8.0,2.08,-3.3,2.10,-6.0,2.12,-2.3,2.14,-7.3,2.16,-4.4,2.18,-3.0,2.20,-8.9,2.22,-2.5,2.24,-5.6,2.26,-3.8,2.28,-7.0,2.30,-2.2,2.32,-4.9,2.35,-3.4,2.38,-6.6,2.41,-2.6,2.44,-8.2,2.47,-3.9,2.50,-2.3,2.53,-5.3,2.56,-7.7,2.59,-3.1,2.62,-2.5,2.65,-6.4,2.68,-4.1,2.71,-8.6,2.74,-2.7,2.76,-5.8,2.78,-12.4,2.80,-3.4,2.82,-7.2,2.84,-2.2,2.86,-6.0,2.88,-3.7,2.90,-9.2,2.92,-5.0,2.94,-2.6,2.96,-4.2,2.98,-3.0,3.01,-7.0,3.04,-2.4,3.07,-5.5,3.10,-3.6,3.13,-8.3,3.16,-2.7,3.19,-4.6,3.22,-3.1,3.25,-6.8,3.28,-2.3,3.31,-5.3,3.34,-3.9,3.37,-7.6,3.40,-2.5,3.43,-4.3,3.46,-6.9,3.49,-3.2,3.52,-2.4,3.55,-5.8,3.58,-3.5,3.60,-4.9,3.62,-2.6,3.64,-6.4,3.66,-3.8,3.68,-2.2,3.70,-5.5,3.72,-4.4,3.74,-7.3,3.76,-2.7,3.78,-3.6,3.80,-9.0,3.82,-2.4,3.85,-6.3,3.88,-3.9,3.91,-8.6,3.94,-2.5,3.97,-4.6,4.00,-3.2,4.03,-7.2,4.06,-2.3,4.09,-5.4,4.12,-3.6,4.15,-8.6,4.18,-2.6,4.21,-4.4,4.24,-6.6,4.27,-3.1,4.30,-2.4,4.33,-5.0,4.36,-7.8,4.39,-3.3,4.42,-2.2,4.45,-6.0,4.48,-3.8,4.51,-8.9,4.54,-2.5,4.57,-4.9,4.60,-9.2,4.62,-3.0];

const redB2 = [0.00,4.3,0.02,6.6,0.04,2.6,0.05,6.2,0.07,5.0,0.09,3.4,0.10,6.8,0.12,2.4,0.14,8.6,0.16,5.4,0.18,7.0,0.20,3.6,0.22,6.0,0.24,9.2,0.26,4.3,0.28,2.6,0.30,7.5,0.31,9.9,0.33,5.7,0.35,3.0,0.37,7.6,0.39,5.0,0.41,2.4,0.43,6.4,0.45,4.6,0.47,7.4,0.49,3.4,0.51,5.9,0.53,8.8,0.55,2.6,0.57,6.8,0.59,4.1,0.61,7.2,0.63,3.2,0.65,9.8,0.67,5.4,0.69,2.5,0.71,7.0,0.73,6.1,0.75,8.6,0.77,3.7,0.79,6.7,0.82,2.4,0.85,5.6,0.88,7.0,0.90,4.2,0.92,6.4,0.94,3.3,0.96,6.9,0.98,2.6,1.00,6.4,1.02,4.5,1.04,8.8,1.07,2.5,1.10,6.6,1.12,3.4,1.14,7.6,1.16,5.4,1.17,4.0,1.19,6.9,1.21,2.7,1.23,7.5,1.25,5.0,1.27,3.5,1.29,6.3,1.31,7.4,1.33,2.6,1.35,5.7,1.37,10.2,1.39,4.3,1.41,6.8,1.43,8.6,1.45,3.0,1.47,5.3,1.50,7.4,1.53,2.5,1.56,4.8,1.59,6.6,1.61,3.7,1.64,5.8,1.66,7.0,1.68,2.4,1.70,4.4,1.72,6.1,1.74,8.3,1.76,5.5,1.78,3.1,1.80,7.1,1.82,6.4,1.84,9.4,1.86,4.6,1.88,2.6,1.90,6.9,1.92,5.2,1.94,7.7,1.96,3.3,1.98,6.2,2.00,2.4,2.02,5.4,2.05,6.6,2.08,3.6,2.11,7.4,2.14,5.0,2.17,2.6,2.20,6.8,2.23,4.1,2.26,7.0,2.29,3.0,2.32,8.3,2.35,5.6,2.38,6.6,2.41,2.5,2.44,7.1,2.47,4.6,2.50,6.0,2.53,3.3,2.56,8.6,2.59,6.3,2.62,2.4,2.65,5.2,2.68,7.3,2.71,3.8,2.74,6.0,2.77,9.3,2.79,4.7,2.81,7.2,2.84,2.6,2.87,5.6,2.90,3.4,2.93,6.5,2.96,7.6,2.99,2.8,3.02,6.7,3.05,4.4,3.08,7.7,3.11,2.6,3.14,6.0,3.17,5.0,3.20,7.1,3.23,3.2,3.26,6.4,3.29,5.7,3.32,2.4,3.35,7.3,3.38,4.6,3.41,6.2,3.44,3.0,3.47,5.9,3.50,7.6,3.52,4.8,3.54,2.6,3.56,6.8,3.58,5.5,3.60,4.3,3.62,6.6,3.64,3.7,3.66,8.5,3.68,5.9,3.70,2.4,3.72,6.4,3.75,4.5,3.78,6.8,3.81,3.0,3.84,5.6,3.87,7.9,3.90,2.6,3.93,4.6,3.96,6.4,3.99,3.4,4.02,5.4,4.05,2.5,4.08,7.3,4.11,6.0,4.13,4.2,4.15,8.2,4.17,2.8,4.19,6.6,4.21,5.0,4.23,3.5,4.25,7.1,4.27,4.4,4.29,9.4,4.31,6.3,4.33,2.6,4.35,5.4,4.37,3.8,4.39,7.0,4.41,4.8,4.43,2.4,4.45,6.2,4.47,8.3,4.49,3.3,4.51,5.6,4.53,7.6,4.55,2.6,4.57,4.5,4.59,6.0,4.61,3.4,4.63,5.2];
const greenB2 = [0.03,-2.9,0.05,-6.6,0.07,-7.8,0.10,-4.5,0.14,-2.3,0.17,-5.9,0.20,-6.8,0.24,-4.7,0.27,-2.2,0.29,-3.3,0.31,-5.0,0.33,-9.9,0.35,-2.6,0.38,-6.6,0.41,-3.3,0.45,-2.9,0.49,-5.8,0.53,-7.7,0.56,-3.9,0.58,-6.5,0.60,-2.4,0.62,-4.3,0.64,-3.7,0.66,-5.0,0.69,-2.6,0.72,-7.7,0.75,-4.0,0.78,-6.0,0.81,-2.3,0.84,-7.6,0.87,-4.6,0.91,-6.2,0.95,-2.4,0.99,-6.8,1.03,-3.3,1.07,-7.7,1.11,-2.4,1.15,-6.5,1.18,-5.7,1.20,-6.0,1.23,-2.4,1.27,-7.4,1.31,-4.3,1.35,-8.3,1.40,-2.2,1.45,-6.0,1.49,-7.3,1.54,-2.5,1.58,-5.4,1.62,-8.3,1.66,-2.8,1.70,-6.5,1.74,-5.1,1.78,-8.8,1.82,-2.3,1.86,-6.8,1.90,-4.8,1.94,-2.6,1.98,-6.6,2.02,-8.5,2.06,-6.0,2.10,-3.0,2.14,-7.0,2.18,-5.9,2.22,-2.2,2.26,-6.6,2.30,-4.1,2.34,-2.4,2.38,-6.5,2.41,-2.2,2.45,-6.2,2.49,-7.3,2.52,-5.7,2.56,-8.8,2.60,-6.6,2.64,-2.6,2.68,-3.6,2.72,-7.0,2.76,-2.3,2.80,-5.5,2.84,-6.5,2.88,-2.9,2.92,-7.6,2.96,-3.4,3.00,-2.4,3.05,-5.8,3.10,-7.6,3.15,-3.0,3.20,-4.8,3.24,-2.2,3.28,-6.2,3.32,-7.3,3.36,-2.6,3.40,-4.9,3.44,-5.3,3.48,-3.1,3.52,-2.3,3.55,-3.8,3.58,-5.2,3.60,-6.0,3.62,-4.9,3.64,-6.4,3.66,-2.6,3.70,-5.9,3.74,-7.6,3.78,-3.4,3.82,-2.4,3.86,-5.6,3.90,-7.3,3.95,-3.1,4.00,-2.5,4.05,-4.7,4.10,-6.4,4.15,-2.8,4.20,-5.3,4.25,-7.1,4.30,-3.3,4.35,-2.2,4.40,-6.6,4.44,-4.8,4.48,-3.9,4.52,-2.4,4.56,-3.6,4.60,-6.9,4.62,-2.3];

const redB3 = [0.00,8.2,0.01,10.9,0.02,4.6,0.03,7.0,0.04,3.1,0.05,9.5,0.06,5.2,0.07,2.6,0.08,11.2,0.10,4.2,0.11,6.3,0.12,3.6,0.14,10.4,0.15,5.0,0.17,2.8,0.18,11.5,0.19,4.4,0.21,3.3,0.23,12.0,0.24,5.4,0.26,2.5,0.28,11.6,0.29,4.8,0.31,3.7,0.33,12.5,0.34,5.0,0.35,11.3,0.36,2.7,0.38,4.2,0.40,11.9,0.41,3.0,0.43,5.2,0.45,13.6,0.46,4.5,0.48,2.4,0.50,12.8,0.52,3.6,0.54,5.0,0.56,11.6,0.58,2.8,0.60,4.6,0.62,12.1,0.64,3.3,0.66,5.3,0.68,11.4,0.70,2.6,0.72,4.2,0.74,12.6,0.76,3.4,0.78,5.5,0.80,11.2,0.82,2.5,0.84,4.0,0.86,11.8,0.88,3.5,0.90,5.2,0.92,12.4,0.94,2.8,0.96,4.6,0.98,11.1,1.00,3.2,1.02,5.0,1.04,12.2,1.06,2.7,1.08,4.4,1.10,11.7,1.12,3.6,1.14,12.5,1.16,2.4,1.18,5.1,1.20,11.3,1.22,3.8,1.24,4.6,1.26,2.5,1.28,11.8,1.30,3.3,1.32,5.2,1.34,12.0,1.36,2.6,1.38,4.3,1.40,12.4,1.42,3.5,1.44,5.0,1.46,12.9,1.48,2.8,1.50,4.2,1.52,11.5,1.54,3.6,1.56,5.3,1.58,12.2,1.60,2.5,1.62,4.8,1.64,11.0,1.66,3.4,1.68,5.1,1.70,12.6,1.72,2.7,1.74,4.4,1.76,11.4,1.78,3.2,1.80,5.4,1.82,11.9,1.84,2.4,1.86,4.6,1.88,12.3,1.90,3.7,1.92,5.0,1.94,11.2,1.96,2.6,1.98,4.2,2.00,12.0,2.02,3.3,2.04,5.3,2.06,11.6,2.08,2.5,2.10,4.7,2.12,12.4,2.14,3.5,2.16,5.1,2.18,11.1,2.20,2.8,2.22,4.3,2.24,11.8,2.26,3.6,2.28,5.5,2.30,12.2,2.32,2.4,2.34,4.5,2.36,11.4,2.38,3.1,2.40,5.2,2.42,12.7,2.44,2.7,2.46,4.1,2.48,11.6,2.50,3.4,2.52,5.4,2.54,12.1,2.56,2.6,2.58,4.8,2.60,11.3,2.62,3.8,2.64,5.0,2.66,11.9,2.68,2.5,2.70,4.4,2.72,12.5,2.74,3.3,2.76,5.3,2.78,11.2,2.80,2.8,2.82,4.6,2.84,11.7,2.86,3.5,2.88,5.1,2.90,12.3,2.92,2.4,2.94,4.2,2.96,11.5,2.98,3.6,3.00,5.5,3.02,12.0,3.04,2.7,3.06,4.7,3.08,11.3,3.10,3.2,3.12,5.2,3.14,11.8,3.16,2.5,3.18,4.4,3.20,12.4,3.22,3.7,3.24,5.0,3.26,11.1,3.28,2.6,3.30,4.6,3.32,11.9,3.34,3.4,3.36,5.3,3.38,12.2,3.40,2.8,3.42,4.3,3.44,11.6,3.46,3.5,3.48,5.1,3.50,11.2,3.52,2.4,3.54,4.8,3.56,12.0,3.58,3.3,3.60,5.4,3.62,11.7,3.64,2.6,3.66,4.5,3.68,11.3,3.70,3.6,3.72,5.0,3.74,12.3,3.76,2.7,3.78,4.2,3.80,11.5,3.82,3.2,3.84,5.2,3.86,12.1,3.88,2.5,3.90,4.6,3.92,11.8,3.94,3.8,3.96,5.5,3.98,11.2,4.00,2.8,4.02,4.4,4.04,12.4,4.06,3.4,4.08,5.1,4.10,11.6,4.12,2.6,4.14,4.7,4.16,11.9,4.18,3.5,4.20,5.3,4.22,12.2,4.24,2.4,4.26,4.3,4.28,11.4,4.30,3.7,4.32,5.0,4.34,12.6,4.36,2.7,4.38,4.8,4.40,11.1,4.42,3.3,4.44,5.4,4.46,11.8,4.48,2.5,4.50,4.5,4.52,12.0,4.54,3.6,4.56,5.2,4.58,11.3,4.60,2.8,4.62,4.4,4.64,10.8];
const greenB3 = [0.00,-3.3,0.02,-2.3,0.04,-3.9,0.06,-2.7,0.08,-8.2,0.10,-3.6,0.12,-2.4,0.14,-7.5,0.16,-3.7,0.18,-9.0,0.20,-2.6,0.22,-9.2,0.24,-3.7,0.26,-10.3,0.28,-2.4,0.30,-3.7,0.32,-10.9,0.34,-9.4,0.36,-2.6,0.38,-11.2,0.40,-3.7,0.42,-10.0,0.44,-2.4,0.48,-3.7,0.52,-8.8,0.55,-2.6,0.58,-3.7,0.62,-8.6,0.65,-2.4,0.68,-4.6,0.72,-8.0,0.76,-3.7,0.80,-2.5,0.84,-8.0,0.88,-3.7,0.92,-7.8,0.94,-2.6,0.98,-12.0,1.00,-3.7,1.04,-2.4,1.08,-3.7,1.12,-8.6,1.16,-2.6,1.20,-3.7,1.24,-4.3,1.28,-7.4,1.30,-9.6,1.32,-8.0,1.34,-9.3,1.36,-3.7,1.40,-2.6,1.44,-3.7,1.48,-2.4,1.52,-10.4,1.56,-11.4,1.58,-6.8,1.62,-2.5,1.66,-3.7,1.70,-4.6,1.74,-8.0,1.78,-2.7,1.82,-3.7,1.86,-8.6,1.90,-2.4,1.94,-9.0,1.98,-3.7,2.02,-2.6,2.06,-9.6,2.10,-3.7,2.14,-10.4,2.18,-2.5,2.22,-10.6,2.26,-3.7,2.30,-9.4,2.34,-2.7,2.38,-9.8,2.42,-3.7,2.46,-4.3,2.50,-10.2,2.54,-2.4,2.58,-3.7,2.62,-9.0,2.66,-2.6,2.70,-10.4,2.74,-3.7,2.78,-5.8,2.80,-6.6,2.82,-8.0,2.86,-2.5,2.90,-3.7,2.94,-9.0,2.98,-2.4,3.02,-3.7,3.06,-10.0,3.10,-2.6,3.14,-9.2,3.18,-3.7,3.22,-4.9,3.26,-4.6,3.30,-2.4,3.34,-10.5,3.38,-3.7,3.42,-11.0,3.46,-2.7,3.50,-5.7,3.54,-3.7,3.58,-8.5,3.60,-8.9,3.62,-9.2,3.64,-8.6,3.66,-7.8,3.68,-2.5,3.72,-3.7,3.76,-9.6,3.80,-2.4,3.84,-3.7,3.88,-8.8,3.92,-2.6,3.96,-8.9,4.00,-3.7,4.04,-10.8,4.08,-2.4,4.12,-3.7,4.16,-9.0,4.20,-2.6,4.24,-3.7,4.28,-8.2,4.32,-10.0,4.34,-8.6,4.36,-9.4,4.40,-2.5,4.44,-3.7,4.48,-6.8,4.52,-2.4,4.56,-3.7,4.60,-11.0,4.62,-2.6];

// ---- pAMDE1 plasmid (x in kb) ----
const redC1 = [8,6.0,12,7.5,15,5.2,18,6.8,22,4.8,25,7.0,28,5.8,30,8.6,33,6.3,36,4.5,40,7.8,43,5.5,20,3.8,45,3.2,90,7.3,93,5.8,96,6.6,100,4.5,104,8.8,108,6.0,95,8.2,102,5.2,50,2.6,47,4.1];
const blueC1 = [2,1.0,4,-0.5,6,0.6,8,-1.2,10,1.5,12,0.2,14,-0.8,16,1.1,18,-1.6,20,0.4,22,-0.2,24,1.3,26,-1.0,28,0.8,30,-0.4,32,1.6,34,-1.4,36,0.1,38,0.9,40,-0.7,42,1.2,44,-1.8,46,0.5,48,-0.3,50,1.0,52,-1.1,55,0.3,60,-1.0,65,-0.5,70,-1.3,75,0.2,80,-0.8,85,0.6,88,-1.5,90,1.4,92,-0.2,94,0.9,96,-1.1,98,1.7,100,-0.6,102,0.4,104,-1.6,106,1.1,108,-0.4,110,0.7,3,1.8,15,-1.9,27,1.9,41,-1.7,93,1.9,107,-1.8,5,0.2,9,0.9,13,-1.5,17,-0.1,21,1.7,25,-0.6,29,0.0,33,-1.1,37,1.4,43,0.4,47,-1.3,51,0.7,89,-0.9,91,0.1,95,1.2,97,-0.5,99,0.3,101,-1.3,103,1.5,105,-0.1,109,0.9,111,-1.0];
const greenC1 = [18,-2.3,22,-2.6,28,-2.2,35,-2.8,42,-2.4,48,-3.0,55,-2.5,60,-3.4,88,-2.3,96,-2.6,104,-2.2,32,-6.5,36,-8.6,44,-9.2,96,-7.2,100,-8.0,103,-9.0,98,-8.7,105,-7.6];
const redC2 = [6,4.6,8,7.2,10,5.5,12,8.8,14,3.6,16,6.4,18,9.4,20,4.8,22,7.0,24,5.9,26,2.8,28,8.1,30,6.2,32,4.2,34,7.6,36,5.0,38,9.8,40,3.2,42,6.8,44,5.4,46,2.5,48,7.3,7,2.5,13,6.0,19,3.2,25,8.4,33,2.6,41,8.2,88,6.6,90,8.3,92,4.5,94,7.2,96,5.8,98,3.4,100,8.0,102,6.2,104,4.8,106,7.6,108,5.3,110,2.9,95,9.0,101,2.6,107,3.8,62,3.0,75,2.4];
const blueC2 = [2,0.8,4,-1.2,6,1.5,8,0.1,10,-0.7,12,1.9,14,-1.6,16,0.5,18,-0.2,20,1.2,22,-1.0,24,0.3,26,1.7,28,-1.8,30,0.9,32,-0.4,34,1.4,36,-1.3,38,0.0,40,1.0,42,-0.8,44,1.8,46,-1.5,48,0.6,50,-0.1,52,1.3,54,-1.1,58,0.4,63,-0.9,68,1.1,73,-0.3,78,0.8,84,-1.4,88,1.6,90,-0.6,92,0.2,94,1.9,96,-1.2,98,0.7,100,-0.3,102,1.4,104,-1.7,106,0.5,108,1.1,110,-0.9,3,-0.3,9,1.1,15,0.9,21,-1.9,27,0.6,33,-1.0,39,1.6,45,0.2,91,-1.9,97,0.4,103,-0.5,109,1.8];
const greenC2 = [22,-4.0,12,-8.4,105,-3.3,100,-8.6,60,-2.4];
const redC3 = [5,8.8,7,10.1,9,7.6,11,9.3,13,6.6,15,8.2,17,11.1,19,7.4,21,9.8,23,6.2,25,10.6,27,8.5,29,7.0,31,9.1,33,12.3,35,6.8,37,8.0,39,10.3,41,7.7,43,5.8,45,9.6,47,8.4,49,6.4,51,11.6,53,7.2,58,4.9,62,3.4,65,2.3,60,2.8,68,8.6,72,11.5,88,9.5,90,7.5,92,8.6,94,10.2,96,6.7,98,9.0,100,7.9,102,10.6,104,8.2,106,7.1,108,9.4,110,6.3,97,11.0];
const blueC3 = [2,0.9,4,-1.3,6,0.3,8,1.4,10,-0.6,12,-1.8,14,0.8,16,-0.2,18,1.2,20,-1.0,22,0.5,24,1.6,26,-1.5,28,0.1,30,1.0,32,-0.7,34,-1.9,36,0.6,38,1.3,40,-0.4,42,-1.2,44,0.9,46,1.7,48,-0.9,50,0.2,52,-1.6,55,1.1,60,-0.5,66,0.7,72,-1.1,78,0.4,84,1.5,88,-0.8,90,0.6,92,-1.7,94,1.2,96,-0.3,98,1.8,100,-1.2,102,0.1,104,1.0,106,-1.5,108,0.5,110,-0.6,5,1.7,11,0.0,17,-1.4,23,-0.5,29,1.9,35,-0.1,41,1.5,47,0.3,93,0.0,99,-1.9,105,1.4,111,0.8];
const greenC3 = [5,-3.0,10,-2.5,20,-4.5,30,-2.4,35,-3.3,45,-2.8,58,-2.3,62,-3.8,88,-2.5,95,-4.2,100,-3.0,108,-2.2,5,-9.4,8,-10.0,10,-9.8,12,-10.2,15,-9.6,7,-8.8,40,-10.6,95,-9.0,100,-10.4,104,-9.6];

// ================= layout =================
const fig = document.getElementById('fig');
const COLS = [
  { left: 79, right: 592, yw: 39, pad: 7 },
  { left: 630, right: 1140, yw: 33, pad: 10 },
  { left: 1145, right: 1185, yw: 0, pad: 0 }
];
const ROWS = [
  { top: 236, bottom: 440, xh: 12, y: [-12.7, 12.0] },
  { top: 453, bottom: 656, xh: 12, y: [-10.5, 11.46] },
  { top: 665, bottom: 870, xh: 30, y: [-14.1, 13.97] }
];
const XR = [[-0.2, 4.64], [-0.156, 4.82], [-3, 112]];

Chart.defaults.font.family = "'Liberation Sans', Arial, sans-serif";
Chart.defaults.font.size = 11;
Chart.defaults.color = '#222';

function pairs(flat) {
  const out = [];
  for (let i = 0; i < flat.length; i += 2) out.push({ x: flat[i], y: flat[i + 1] });
  return out;
}
function joinXY(xs, ys) { return xs.map((x, i) => ({ x: x, y: ys[i] })); }
function bins(xs, lo, hi) { return xs.map((x, i) => ({ x: x, y: [lo[i], hi[i]] })); }

function dot(color, w, h) {
  const c = document.createElement('canvas');
  c.width = w; c.height = h;
  const g = c.getContext('2d');
  g.fillStyle = color;
  g.beginPath();
  g.ellipse(w / 2, h / 2, w / 2, h / 2, 0, 0, Math.PI * 2);
  g.fill();
  return c;
}
// white gaps between overlapping dots, as a repeating texture
const SPECKS_BLUE = [[3,2],[11,5],[18,1],[7,9],[15,11],[23,7],[2,13],[26,3],[28,12],[20,14],[12,15],[9,1],[21,4],[5,6],[17,8],[25,10]];
const SPECKS_RED = [[3,2],[11,5],[18,1],[7,9],[15,11],[23,7],[2,13],[26,3],[28,12],[20,14],[12,15],[9,1],[21,4],[5,6],[17,8],[25,10],[14,3],[1,9],[27,15],[10,12]];
function speckle(base, specks) {
  const c = document.createElement('canvas');
  c.width = 30; c.height = 16;
  const g = c.getContext('2d');
  g.fillStyle = base; g.fillRect(0, 0, 30, 16);
  g.fillStyle = 'rgba(255,255,255,0.85)';
  specks.forEach(([sx, sy]) => { g.beginPath(); g.ellipse(sx, sy, 1.9, 1.1, 0, 0, Math.PI * 2); g.fill(); });
  return g.createPattern(c, 'repeat');
}

const RED = '#f01e1e', GREEN = '#1d9a3c', SKY = '#1a8fcf', LOWESS = '#483d8b';
const redDot = dot(RED, 6, 4), greenDot = dot(GREEN, 6, 4);
const redSmall = dot(RED, 5, 4), greenSmall = dot(GREEN, 5, 4), skySmall = dot(SKY, 5, 4);
const bluePat = speckle('#6e9ff2', SPECKS_BLUE);
const redPat = speckle('#f02a2a', SPECKS_RED);

function isles(chart, list, color) {
  const { ctx, chartArea: a, scales: { x } } = chart;
  ctx.save();
  ctx.fillStyle = color;
  list.forEach(([s, e]) => {
    const x0 = x.getPixelForValue(s), x1 = x.getPixelForValue(e);
    ctx.fillRect(x0, a.top, x1 - x0, a.bottom - a.top);
  });
  ctx.restore();
}

const deco = {
  id: 'deco',
  beforeDatasetsDraw(chart, args, o) { isles(chart, o.islands, '#cbcbcb'); },
  afterDatasetDraw(chart, args, o) {
    if (chart.data.datasets[args.index].label === 'band') isles(chart, o.islands, 'rgba(216,216,216,0.55)');
  },
  afterDatasetsDraw(chart, args, o) {
    const { ctx, chartArea: a, scales: { y } } = chart;
    ctx.save();
    ctx.strokeStyle = o.cutColor;
    ctx.lineWidth = o.cutWidth;
    ctx.setLineDash(o.cutDash);
    cutoffs.forEach(v => {
      const py = Math.round(y.getPixelForValue(v)) + 0.5;
      ctx.beginPath(); ctx.moveTo(a.left, py); ctx.lineTo(a.right, py); ctx.stroke();
    });
    ctx.restore();
  },
  afterDraw(chart) {
    const { ctx, chartArea: a } = chart;
    ctx.save();
    ctx.strokeStyle = '#1a1a1a';
    ctx.lineWidth = 1;
    ctx.strokeRect(Math.round(a.left) + 0.5, Math.round(a.top) + 0.5, Math.round(a.right - a.left) - 1, Math.round(a.bottom - a.top) - 1);
    ctx.restore();
  }
};

function makePanel(ri, ci, p) {
  const col = COLS[ci], row = ROWS[ri];
  const W = col.yw + (col.right - col.left);
  const H = 10 + (row.bottom - row.top) + row.xh;
  const cv = document.createElement('canvas');
  cv.width = W; cv.height = H;
  cv.style.cssText = 'position:absolute;left:' + (col.left - col.yw) + 'px;top:' + (row.top - 10) + 'px;width:' + W + 'px;height:' + H + 'px';
  fig.appendChild(cv);

  const small = ci === 2;
  const ds = [];
  if (p.lo) ds.push({ type: 'bar', label: 'band', data: bins(p.bx, p.lo, p.hi), backgroundColor: bluePat, borderWidth: 0, grouped: false, barPercentage: 1, categoryPercentage: 1, order: 6 });
  if (p.blue) ds.push({ type: 'scatter', label: 'blue', data: pairs(p.blue), pointStyle: skySmall, pointRadius: 2, order: 5 });
  if (p.coreLo) ds.push({ type: 'bar', label: 'core', data: bins(p.bx, p.coreLo, p.coreHi), backgroundColor: redPat, borderWidth: 0, grouped: false, barPercentage: 1, categoryPercentage: 1, order: 4 });
  ds.push({ type: 'scatter', label: 'down', data: pairs(p.green), pointStyle: small ? greenSmall : greenDot, pointRadius: 3, order: 3 });
  ds.push({ type: 'scatter', label: 'up', data: pairs(p.red), pointStyle: small ? redSmall : redDot, pointRadius: 3, order: 2 });
  if (p.lowY) ds.push({ type: 'line', label: 'lowess', data: joinXY(p.lowX, p.lowY), borderColor: LOWESS, borderWidth: 1.4, pointRadius: 0, tension: 0, order: 1 });

  const lastRow = ri === 2;
  new Chart(cv, {
    type: 'scatter',
    data: { datasets: ds },
    options: {
      responsive: false,
      animation: false,
      events: [],
      layout: { padding: { top: 10, left: 0, right: 0, bottom: 0 } },
      plugins: {
        legend: { display: false },
        tooltip: { enabled: false },
        deco: {
          islands: p.islands,
          cutColor: small ? LOWESS : (lastRow ? LOWESS : '#3b3bb8'),
          cutWidth: lastRow ? 1.3 : 1,
          cutDash: small ? [5, 4] : (lastRow ? [8, 6] : [2, 2])
        }
      },
      scales: {
        x: {
          type: 'linear', min: XR[ci][0], max: XR[ci][1], offset: false,
          grid: { offset: false, drawOnChartArea: false, drawTicks: true, tickLength: small ? 4 : 5, color: '#222' },
          border: { display: false },
          afterBuildTicks: ax => { ax.ticks = (small ? xTicksC : xTicksAB).map(v => ({ value: v })); },
          afterFit: ax => { ax.height = row.xh; },
          ticks: { display: lastRow && !small, padding: 5, maxRotation: 0, autoSkip: false, font: { size: 11 }, color: '#222' }
        },
        y: {
          type: 'linear', min: row.y[0], max: row.y[1], display: !small,
          grid: { drawOnChartArea: false, drawTicks: true, tickLength: 5, color: '#222' },
          border: { display: false },
          afterBuildTicks: ax => { ax.ticks = yTicks.map(v => ({ value: v })); },
          afterFit: ax => { ax.width = col.yw; },
          ticks: { padding: col.pad, callback: v => Math.abs(v), font: { size: 11 }, color: '#222' }
        }
      }
    },
    plugins: [deco]
  });
}

const A = { islands: islandsA, lowX: lowXA, bx: bandXA };
const B = { islands: islandsB, lowX: lowXB, bx: bandXB };
const C = { islands: islandsC };
makePanel(0, 0, Object.assign({ red: redA1, green: greenA1, lowY: lowA1, lo: bandLoA1, hi: bandHiA1 }, A));
makePanel(1, 0, Object.assign({ red: redA2, green: greenA2, lowY: lowA2, lo: bandLoA2, hi: bandHiA2 }, A));
makePanel(2, 0, Object.assign({ red: redA3, green: greenA3, lowY: lowA3, lo: bandLoA3, hi: bandHiA3 }, A));
makePanel(0, 1, Object.assign({ red: redB1, green: greenB1, lowY: lowB1, lo: bandLoB1, hi: bandHiB1 }, B));
makePanel(1, 1, Object.assign({ red: redB2, green: greenB2, lowY: lowB2, lo: bandLoB2, hi: bandHiB2 }, B));
makePanel(2, 1, Object.assign({ red: redB3, green: greenB3, lowY: lowB3, lo: bandLoB3, hi: bandHiB3, coreLo: coreLoB3, coreHi: coreHiB3 }, B));
makePanel(0, 2, Object.assign({ red: redC1, green: greenC1, blue: blueC1 }, C));
makePanel(1, 2, Object.assign({ red: redC2, green: greenC2, blue: blueC2 }, C));
makePanel(2, 2, Object.assign({ red: redC3, green: greenC3, blue: blueC3 }, C));

// ---- rotated island labels over the top row ----
function addLabels(us, ts, xs, base, size) {
  us.forEach((u, i) => {
    const d = document.createElement('div');
    d.className = 'isl';
    d.style.left = xs[i] + 'px';
    d.style.top = (base - size) + 'px';
    d.style.fontSize = size + 'px';
    d.style.lineHeight = size + 'px';
    if (u) { const e = document.createElement('u'); e.textContent = u; d.appendChild(e); }
    if (ts[i]) d.appendChild(document.createTextNode(ts[i]));
    fig.appendChild(d);
  });
}
addLabels(labUA, labTA, [118,141,168,215,231,291,348,418,436,453,474,494,516,548,573], 231, 13.5);
addLabels(labUB, labTB, [663,686,711,744,763,784,823,843,938,959,976,1009,1039,1066,1096,1118], 224, 12);
addLabels(labUC, labTC, [1171], 224, 12);

// ---- corner counts ----
function txt(cls, css, s) {
  const d = document.createElement('div');
  d.className = cls; d.style.cssText = css; d.textContent = s;
  fig.appendChild(d); return d;
}
const upY = [252, 467, 678], downY = [424, 646, 858];
const upYB = [252, 467, 677], downYB = [424, 643, 857];
for (let r = 0; r < 3; r++) {
  txt('cnt', 'left:87px;top:' + (upY[r] - 9) + 'px', countUpA[r]);
  txt('cnt', 'left:84px;top:' + (downY[r] - 9) + 'px', countDownA[r]);
  txt('cnt', 'right:' + (1285 - 1137) + 'px;top:' + (upYB[r] - 9) + 'px', countUpB[r]);
  txt('cnt', 'right:' + (1285 - 1136) + 'px;top:' + (downYB[r] - 9) + 'px', countDownB[r]);
}

// ---- arrows and comparison names on the right ----
const svgNS = 'http://www.w3.org/2000/svg';
const svg = document.createElementNS(svgNS, 'svg');
svg.setAttribute('width', 1285); svg.setAttribute('height', 1238);
svg.style.cssText = 'position:absolute;left:0;top:0';
fig.appendChild(svg);
function arrow(cx, y0, y1, up, fill) {
  const hw = 13, sw = 7, hh = 24;
  const pts = up
    ? [[cx, y0], [cx + hw, y0 + hh], [cx + sw, y0 + hh], [cx + sw, y1], [cx - sw, y1], [cx - sw, y0 + hh], [cx - hw, y0 + hh]]
    : [[cx, y1], [cx + hw, y1 - hh], [cx + sw, y1 - hh], [cx + sw, y0], [cx - sw, y0], [cx - sw, y1 - hh], [cx - hw, y1 - hh]];
  const p = document.createElementNS(svgNS, 'polygon');
  p.setAttribute('points', pts.map(q => q.join(',')).join(' '));
  p.setAttribute('fill', fill);
  p.setAttribute('stroke', '#444');
  p.setAttribute('stroke-width', '0.7');
  svg.appendChild(p);
}
const arrowY = [[252, 316, 362, 426], [465, 528, 575, 640], [678, 742, 788, 852]];
const nameUpY = [260, 471, 686], nameDownY = [377, 590, 793];
for (let r = 0; r < 3; r++) {
  arrow(1208.5, arrowY[r][0], arrowY[r][1], true, '#ff0000');
  arrow(1208.5, arrowY[r][2], arrowY[r][3], false, '#12973a');
  const u = txt('arl', 'left:1230px;top:' + nameUpY[r] + 'px', '');
  u.innerHTML = upNames[r][0] + '<br>' + upNames[r][1];
  const d = txt('arl', 'left:1230px;top:' + nameDownY[r] + 'px', '');
  d.innerHTML = downNames[r][0] + '<br>' + downNames[r][1];
}

// ---- axis titles ----
txt('', 'position:absolute;left:37px;top:555px;font-weight:bold;font-size:17px;line-height:18px;white-space:nowrap;transform:translate(-50%,-50%) rotate(-90deg);color:#111', 'Fold Change');
txt('gen', 'left:330px;top:905px', genomes[0]);
txt('gen', 'left:905px;top:905px', genomes[1]);
txt('gen', 'left:1178px;top:905px', genomes[2]);

// ---- caption ----
const capTitle = 'Figure 1 Fold changes across the genomes of AltDE and AltDE1.';
const capLines = [
  ' Genomic islands (GI) and flexible genomic islands (fGI) are plotted in grey',
  'bars in both genomes. The temperature plots on the left are comparisons at two different temperatures (25°C and 13°C). The growth medium',
  'plots on the right are the comparisons between rich medium (RM) vs minimal medium with glucose (MMG) at 25°C. In each plot the genes that',
  'have a fold change of >2 or < \u22122 are colored red and green respectively. In the temperature panels, red represents up regulation at 25°C, while',
  'green represents up regulation at 13°C. In the growth medium panels red represents up regulation in RM, while green represents up regulation',
  'in MMG. Genes in blue are those that do not have a fold change of >2/<\u22122, and are delineated by dashed horizontal lines. A lowness fit of the',
  'expression values is shown along the genome. The numbers of these genes and the percentage of total genes affected are shown in bold in the',
  'corner of each plot. Brief descriptions of the islands: fGI-1, Microaerobic respiration; fGI-2, Metal resistance/Hydrogenases; fGI-3, ND; fGI-4, Flagellum;',
  'fGI-5, Exopolysaccharide; fGI-6, O-chain of LPS; fGI-7, Urease/CRISPR cluster; fGI-8, ND; fGI-9, Glycosyltransferases; GI-1, Mercury resistance; GI-2, Mercury/',
  'Metal resistance; GI-3, Phage; GI-4, ND; GI-5, Nitrate respiration; GI-6, ND; GI-7, Lambda-like phage; GI-8, ND; GI-9, ND; GI-10, Mobilizable Genomic Island',
  '(MGI). ND, not defined.'
];
const capWidths = [1237, 1249, 1249, 1249, 1248, 1249, 1249, 1246, 1249, 1246, 0];
const scales = [];
capLines.forEach((s, i) => {
  const d = document.createElement('div');
  d.className = 'cap';
  d.style.top = (942 + i * 26.5) + 'px';
  if (i === 0) { const b = document.createElement('b'); b.textContent = capTitle; d.appendChild(b); }
  d.appendChild(document.createTextNode(s));
  fig.appendChild(d);
  const w = d.offsetWidth;
  const k = capWidths[i] ? capWidths[i] / w : (scales.reduce((a, b) => a + b, 0) / scales.length);
  if (capWidths[i]) scales.push(k);
  d.style.transform = 'scaleX(' + k.toFixed(4) + ')';
});
</script>
</body>
</html>
